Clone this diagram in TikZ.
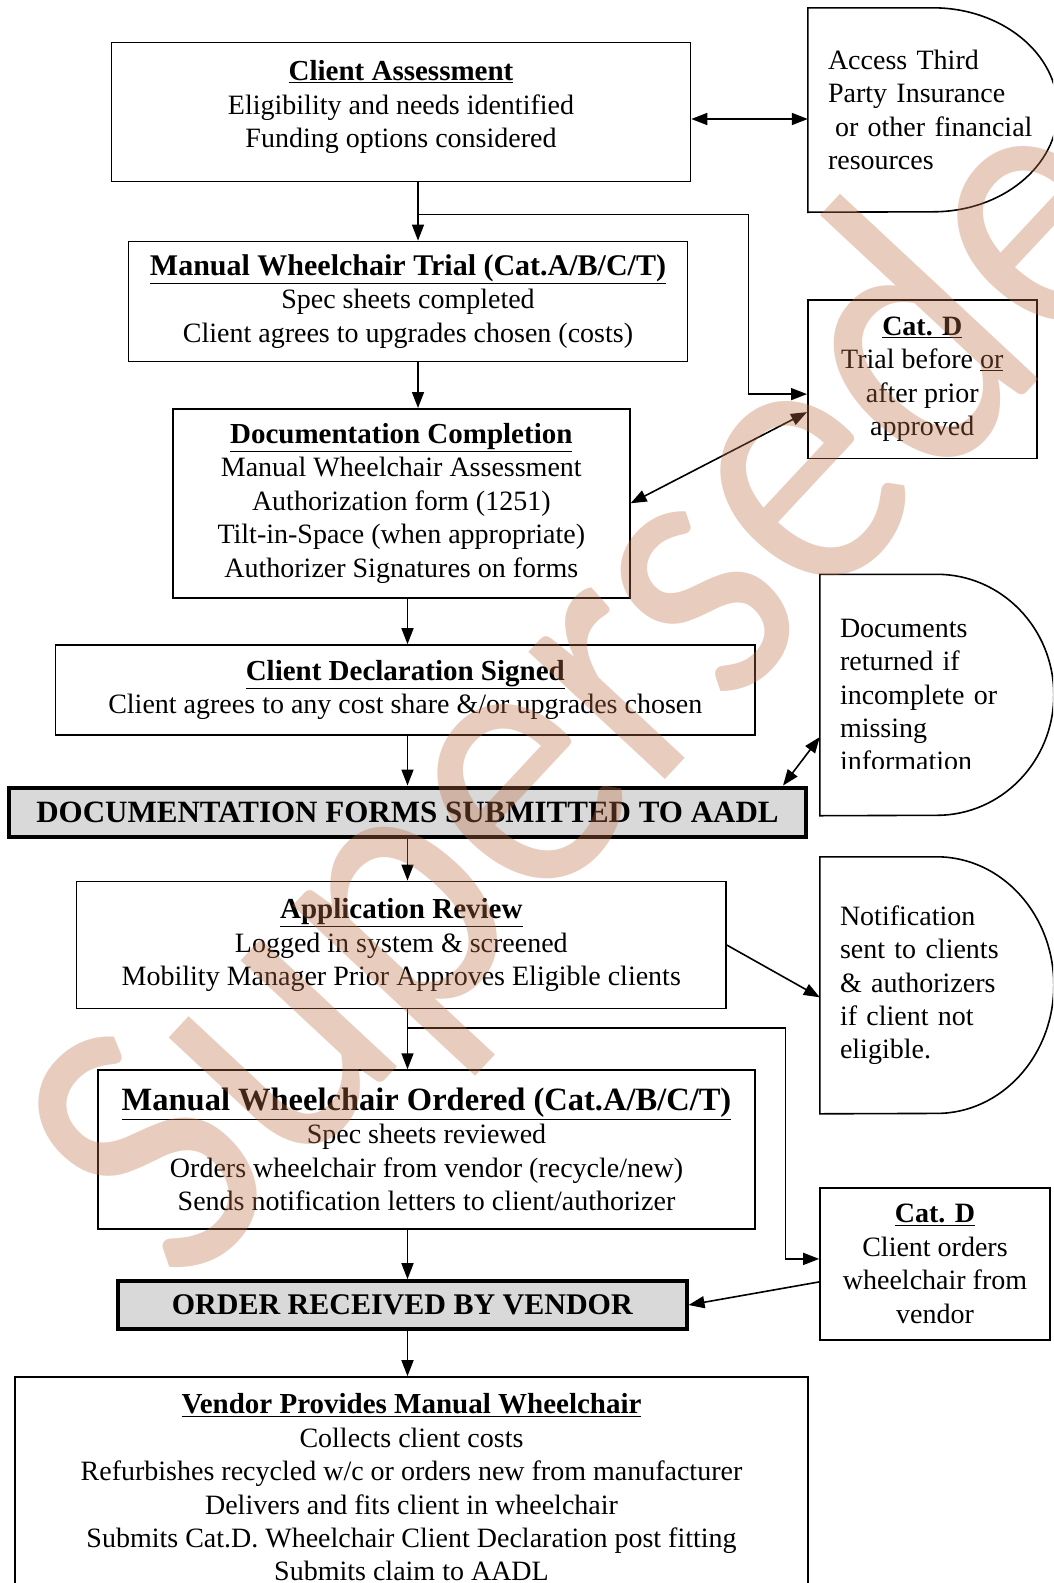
\documentclass[tikz,border=0pt]{standalone}
\usepackage{fontspec}
\setmainfont{Liberation Serif}
\newfontfamily\stampfont{Carlito}
\usetikzlibrary{arrows.meta}
\definecolor{boxgray}{RGB}{217,217,217}
\definecolor{stampred}{RGB}{190,110,70}
\newcommand{\bodysize}{\fontsize{28}{33.4}\selectfont}
\newcommand{\boxtitle}[2][29]{{\fontsize{#1}{33.4}\selectfont\underline{\textbf{#2}}}}

\begin{document}
\begin{tikzpicture}[x=1pt, y=-1pt,
    every node/.style={font=\bodysize},
    flowbox/.style={draw, line width=1.6pt, align=center, inner sep=0pt},
    heavybox/.style={draw, line width=4pt, fill=boxgray, inner sep=0pt, font=\fontsize{30}{33.4}\selectfont\bfseries},
    delaybox/.style={align=left, inner sep=0pt},
    link/.style={line width=1.6pt, -{Triangle[length=16pt,width=12pt]}},
    twoway/.style={line width=1.6pt, {Triangle[length=16pt,width=12pt]}-{Triangle[length=16pt,width=12pt]}},
    stamp/.style={font=\stampfont\fontsize{340}{340}\selectfont, text=stampred, text opacity=0.35, inner sep=0pt}]
    \useasboundingbox (0,0) rectangle (1053,1583);
    \clip (0,0) rectangle (1053,1583);

    % main column
    \node[flowbox, minimum width=579pt, minimum height=139pt] (assess) at (401,112)
        {\boxtitle{Client Assessment}\\Eligibility and needs identified\\Funding options considered\\[-18pt]};
    \node[flowbox, minimum width=559pt, minimum height=120pt] (trial) at (408,301.4)
        {\boxtitle[30]{Manual Wheelchair Trial (Cat.A/B/C/T)}\\Spec sheets completed\\Client agrees to upgrades chosen (costs)};
    \node[flowbox, minimum width=457pt, minimum height=189pt] (doccomp) at (401.3,503.3)
        {\boxtitle{Documentation Completion}\\Manual Wheelchair Assessment\\Authorization form (1251)\\Tilt-in-Space (when appropriate)\\Authorizer Signatures on forms};
    \node[flowbox, minimum width=699.5pt, minimum height=90pt] (decl) at (405.3,690)
        {\boxtitle{Client Declaration Signed}\\Client agrees to any cost share \&/or upgrades chosen};
    \node[heavybox, minimum width=797pt, minimum height=49.5pt, font=\fontsize{31}{33.4}\selectfont\bfseries] (submit) at (407.5,812.3)
        {DOCUMENTATION FORMS SUBMITTED TO AADL};
    \node[flowbox, minimum width=649.3pt, minimum height=127.2pt] (review) at (401.3,945)
        {\boxtitle{Application Review}\\Logged in system \& screened\\Mobility Manager Prior Approves Eligible clients};
    \node[flowbox, minimum width=657pt, minimum height=158.7pt] (ordered) at (426.5,1149.4)
        {\boxtitle[32.5]{Manual Wheelchair Ordered (Cat.A/B/C/T)}\\Spec sheets reviewed\\Orders wheelchair from vendor (recycle/new)\\Sends notification letters to client/authorizer};
    \node[heavybox, minimum width=568.5pt, minimum height=47.6pt] (received) at (402.3,1305)
        {ORDER RECEIVED BY VENDOR};
    \node[flowbox, minimum width=793pt, minimum height=221pt] (vendor) at (411.5,1487.5)
        {\boxtitle{Vendor Provides Manual Wheelchair}\\Collects client costs\\Refurbishes recycled w/c or orders new from manufacturer\\Delivers and fits client in wheelchair\\Submits Cat.D. Wheelchair Client Declaration post fitting\\Submits claim to AADL};

    % side column
    \node[delaybox, text width=210pt, minimum width=250pt, minimum height=204pt] (access) at (933,110)
        {Access Third\\Party Insurance\\\hspace*{7pt}or other financial\\resources};
    \draw[line width=1.6pt] (access.north west) -- ++(125,0) arc[start angle=-90, end angle=90, x radius=125, y radius=102] -- (access.south west) -- cycle;
    \node[flowbox, minimum width=229pt, minimum height=158.6pt] (catd1) at (922.3,379.1)
        {\boxtitle[28]{Cat. D}\\Trial before \underline{or}\\after prior\\approved};
    \begin{scope}
        \clip (815,570) rectangle (1053,768);
        \node[delaybox, text width=194pt, minimum width=234pt, minimum height=241pt] (docret) at (937,695)
            {Documents\\returned if\\incomplete or\\missing\\information};
    \end{scope}
    \draw[line width=1.6pt] (docret.north west) -- ++(117,0) arc[start angle=-90, end angle=90, x radius=117, y radius=120.5] -- (docret.south west) -- cycle;
    \node[delaybox, text width=194pt, minimum width=234pt, minimum height=256.6pt] (notif) at (937,985.3)
        {Notification\\sent to clients\\\& authorizers\\if client not\\eligible.};
    \draw[line width=1.6pt] (notif.north west) -- ++(117,0) arc[start angle=-90, end angle=90, x radius=117, y radius=128.3] -- (notif.south west) -- cycle;
    \node[flowbox, minimum width=230pt, minimum height=151.7pt] (catd2) at (935,1263.9)
        {\boxtitle[28]{Cat. D}\\Client orders\\wheelchair from\\vendor};

    % connectors
    \coordinate (colA) at (418,0);
    \coordinate (colB) at (407.5,0);
    \coordinate (forkA) at (748.5,214.5);
    \coordinate (forkB) at (785.5,1028);
    \coordinate (assessR) at ([yshift=-7pt]assess.east);
    \draw[twoway] (assessR) -- (assessR -| access.west);
    \draw[link] (colA |- assess.south) -- (colA |- trial.north);
    \draw[link] (colA |- forkA) -- (forkA) |- ([yshift=-15pt]catd1.west);
    \draw[link] (colA |- trial.south) -- (colA |- doccomp.north);
    \draw[twoway] (doccomp.east) -- ([yshift=-33pt]catd1.west);
    \draw[link] (colB |- doccomp.south) -- (colB |- decl.north);
    \draw[link] (colB |- decl.south) -- (colB |- submit.north);
    \draw[twoway] ([xshift=-25pt]submit.north east) -- ([yshift=-42pt]docret.west);
    \draw[link] (colB |- submit.south) -- (colB |- review.north);
    \draw[link] (review.east) -- ([yshift=-12pt]notif.west);
    \draw[link] (colB |- review.south) -- (colB |- ordered.north);
    \draw[link] (colB |- forkB) -- (forkB) |- ([yshift=5pt]catd2.west);
    \draw[link] (colB |- ordered.south) -- (colB |- received.north);
    \draw[link] ([yshift=-18pt]catd2.west) -- (received.east);
    \draw[link] (colB |- received.south) -- (colB |- vendor.north);

    % watermark
    \node[stamp, anchor=base west, rotate=47, yscale=1.15] (stampword) at (185,1295) {Superseded};
\end{tikzpicture}
\end{document}
